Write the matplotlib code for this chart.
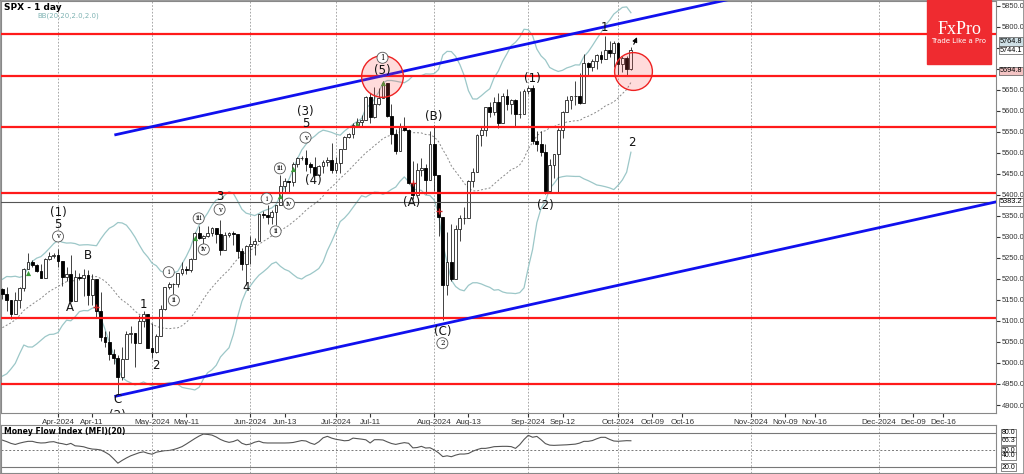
import matplotlib
matplotlib.use("Agg")
import matplotlib.pyplot as plt
import matplotlib.patches as mpatches
import numpy as np
import pandas as pd

# daily candles, 13 Mar 2024 .. 4 Oct 2024 (every weekday, CFD feed)
dates = pd.bdate_range("2024-03-13", "2024-10-04")

# closes before the first visible candle, only used for the bands
warmup_close = [5030, 5006, 5005, 4976, 4982, 5087, 5089, 5070, 5078, 5069,
                5096, 5137, 5131, 5079, 5105, 5157, 5124, 5117, 5175]

opens = [
    5175, 5165, 5150, 5117, 5149, 5178, 5224, 5241, 5234, 5218, 5203, 5248, 5254,
    5256, 5243, 5205, 5211, 5147, 5204, 5202, 5209, 5161, 5199, 5123, 5061, 5051, 5022, 5011, 4967, 5010, 5070, 5071, 5048, 5100, 5116,
    5036, 5025, 5064, 5128, 5181, 5187, 5187, 5214, 5223, 5221, 5247, 5308, 5297, 5303, 5308, 5321, 5307, 5268, 5305, 5308, 5306, 5267, 5235,
    5278, 5283, 5291, 5354, 5352, 5347, 5360, 5375, 5421, 5433, 5431, 5473, 5487, 5488, 5473, 5465, 5448, 5469, 5478, 5483,
    5460, 5475, 5509, 5537, 5545, 5567, 5572, 5577, 5633, 5585, 5615, 5631, 5667, 5588, 5544, 5505, 5564, 5555, 5427, 5399, 5459, 5463, 5436,
    5522, 5446, 5347, 5186, 5240, 5199, 5319, 5344, 5344, 5434, 5455, 5543, 5554, 5608, 5597, 5621, 5571, 5635, 5617, 5626, 5592, 5592,
    5648, 5655, 5529, 5520, 5503, 5408, 5471, 5496, 5554, 5596, 5626, 5634, 5634, 5618, 5714, 5703, 5718, 5732, 5722, 5745, 5738,
    5762, 5711, 5726, 5700]
highs = [
    5179, 5180, 5150, 5170, 5180, 5225, 5261, 5246, 5236, 5236, 5249, 5265, 5262,
    5270, 5243, 5228, 5256, 5222, 5214, 5224, 5222, 5211, 5200, 5168, 5077, 5077, 5033, 5019, 5038, 5076, 5089, 5071, 5114, 5123, 5117,
    5096, 5069, 5139, 5181, 5192, 5191, 5215, 5239, 5230, 5250, 5311, 5325, 5305, 5325, 5324, 5321, 5341, 5311, 5312, 5315, 5306, 5273, 5280,
    5302, 5298, 5354, 5362, 5376, 5365, 5375, 5447, 5439, 5433, 5477, 5490, 5492, 5506, 5478, 5490, 5472, 5483, 5490, 5524,
    5490, 5510, 5539, 5548, 5571, 5583, 5590, 5636, 5642, 5656, 5655, 5671, 5667, 5615, 5557, 5570, 5585, 5556, 5480, 5475, 5487, 5474, 5551,
    5566, 5446, 5347, 5312, 5330, 5328, 5351, 5371, 5436, 5464, 5545, 5564, 5608, 5621, 5633, 5643, 5642, 5652, 5628, 5628, 5646, 5651,
    5660, 5662, 5551, 5551, 5522, 5484, 5497, 5560, 5600, 5636, 5636, 5670, 5690, 5734, 5716, 5722, 5735, 5741, 5778, 5765, 5765,
    5763, 5731, 5730, 5752]
lows = [
    5151, 5123, 5104, 5117, 5131, 5172, 5224, 5229, 5216, 5203, 5203, 5246, 5250,
    5229, 5184, 5194, 5146, 5147, 5198, 5160, 5138, 5138, 5107, 5052, 5039, 5008, 4997, 4924, 4960, 5010, 5048, 4990, 5048, 5086, 5035,
    5013, 5023, 5064, 5127, 5177, 5165, 5180, 5209, 5211, 5217, 5247, 5296, 5283, 5299, 5302, 5286, 5257, 5268, 5300, 5280, 5250, 5222, 5185,
    5235, 5257, 5291, 5346, 5331, 5331, 5328, 5375, 5404, 5404, 5420, 5467, 5482, 5456, 5452, 5447, 5446, 5452, 5468, 5452,
    5452, 5453, 5509, 5534, 5535, 5563, 5563, 5577, 5571, 5583, 5614, 5631, 5584, 5522, 5497, 5505, 5551, 5426, 5391, 5399, 5445, 5401, 5436,
    5410, 5302, 5102, 5162, 5195, 5199, 5290, 5330, 5344, 5419, 5455, 5517, 5540, 5585, 5591, 5560, 5571, 5602, 5593, 5561, 5583, 5592,
    5640, 5521, 5505, 5493, 5403, 5408, 5441, 5406, 5535, 5596, 5604, 5614, 5615, 5618, 5683, 5695, 5700, 5714, 5722, 5727, 5703,
    5683, 5692, 5684, 5696]
closes = [
    5165, 5150, 5117, 5149, 5178, 5224, 5241, 5234, 5218, 5203, 5248, 5254, 5256,
    5243, 5205, 5211, 5147, 5204, 5202, 5209, 5161, 5199, 5123, 5061, 5051, 5022, 5011, 4967, 5010, 5070, 5071, 5048, 5100, 5116, 5036,
    5025, 5064, 5128, 5181, 5187, 5187, 5214, 5223, 5221, 5247, 5308, 5297, 5303, 5308, 5321, 5307, 5268, 5305, 5308, 5306, 5267, 5235, 5278,
    5283, 5291, 5354, 5352, 5347, 5360, 5375, 5421, 5433, 5431, 5473, 5487, 5488, 5473, 5465, 5448, 5469, 5478, 5483, 5460,
    5475, 5509, 5537, 5545, 5567, 5572, 5577, 5633, 5585, 5615, 5631, 5667, 5588, 5544, 5505, 5564, 5555, 5427, 5399, 5459, 5463, 5436, 5522,
    5446, 5347, 5186, 5240, 5199, 5319, 5344, 5344, 5434, 5455, 5543, 5554, 5608, 5597, 5621, 5571, 5635, 5617, 5626, 5592, 5592, 5648,
    5655, 5529, 5520, 5503, 5408, 5471, 5496, 5554, 5596, 5626, 5634, 5634, 5618, 5714, 5703, 5718, 5732, 5722, 5745, 5738, 5762,
    5711, 5726, 5700, 5744]

# Money Flow Index (20), one value per candle
mfi = [
    67.4, 64.8, 61.7, 59.8, 62.1, 63.9, 65.3, 65.3, 63.3, 62.4, 62.7, 64.2, 64.7,
    62.4, 61.2, 59.4, 61.7, 57.4, 56.8, 55.7, 53.3, 51.7, 51.2, 50.1, 46.3, 41.8, 34.6, 26.8, 31.7, 36.0, 39.8, 42.5, 45.3, 46.8, 44.2,
    42.6, 46.2, 47.5, 48.9, 49.2, 50.8, 53.1, 56.0, 60.5, 65.3, 70.2, 74.6, 78.1, 77.5, 76.3, 73.0, 68.6, 65.5, 63.5, 65.0, 68.0, 61.9, 59.3,
    60.5, 63.8, 65.6, 62.9, 62.4, 62.4, 62.4, 62.4, 62.4, 62.6, 63.3, 64.9, 66.7, 65.9, 62.3, 59.9, 64.5, 71.5, 74.1, 71.0,
    68.9, 67.7, 66.3, 66.9, 71.0, 70.1, 69.2, 68.0, 62.4, 68.2, 68.2, 67.7, 64.4, 61.5, 59.9, 61.6, 63.0, 61.9, 53.8, 54.4, 56.5, 53.5, 54.0,
    50.2, 45.1, 38.4, 39.8, 38.2, 41.0, 42.9, 42.9, 43.9, 47.8, 50.7, 52.9, 52.9, 54.2, 55.9, 56.2, 56.5, 56.5, 56.0, 52.9, 59.5, 68.6,
    75.9, 72.5, 74.0, 68.1, 61.3, 58.6, 58.2, 58.5, 58.7, 59.2, 59.8, 60.4, 62.2, 65.3, 65.3, 66.7, 69.8, 72.4, 72.4, 68.8, 65.9,
    65.4, 65.9, 66.5, 66.3]

red_levels = [5782, 5682.5, 5560.5, 5405, 5107, 4951]
channel_k = [26.5, 232.4]
channel_low = [4921, 5383.2]
channel_high = [5543, 6005]
line_value = 5383.2

# (candle position, price, text, circled?)
wave_labels = [
    (13.0, 5358, "(1)", False), (13.0, 5330, "5", False), (13.0, 5301, "v", True),
    (15.8, 5132, "A", False), (20.0, 5256, "B", False),
    (26.8, 4912, "C", False), (26.8, 4874, "(2)", False),
    (32.9, 5140, "1", False), (35.9, 4995, "2", False),
    (38.9, 5216, "i", True), (40.1, 5149, "ii", True),
    (45.9, 5344, "iii", True), (47.1, 5270, "iv", True),
    (50.8, 5396, "3", False), (50.8, 5365, "v", True),
    (56.9, 5180, "4", False),
    (61.8, 5391, "i", True), (63.9, 5313, "ii", True),
    (64.9, 5463, "iii", True), (67.0, 5379, "iv", True),
    (70.9, 5598, "(3)", False), (70.9, 5569, "5", False), (70.9, 5536, "v", True),
    (72.8, 5434, "(4)", False),
    (88.9, 5726, "1", True), (88.9, 5695, "(5)", False),
    (95.7, 5382, "(A)", False), (100.8, 5586, "(B)", False),
    (102.9, 5075, "(C)", False), (102.9, 5047, "2", True),
    (124.0, 5676, "(1)", False), (127.0, 5375, "(2)", False),
    (140.8, 5799, "1", False), (147.3, 5524, "2", False),
]
green_k = [6, 45, 65, 68, 83, 89]
green_p = [5213, 5298, 5398, 5462, 5569, 5667]
cross_k = [22, 96, 102]
cross_p = [5133, 5429, 5362]
zone_k = [88.7, 147.6]
zone_p = [5683, 5695]

tick_dates = ["2024-04-01", "2024-04-11", "2024-05-01", "2024-05-11", "2024-06-01",
              "2024-06-13", "2024-07-01", "2024-07-11", "2024-08-01", "2024-08-13",
              "2024-09-01", "2024-09-12", "2024-10-01", "2024-10-09", "2024-10-16",
              "2024-11-01", "2024-11-09", "2024-11-16", "2024-12-01", "2024-12-09",
              "2024-12-16"]
tick_labels = ["Apr-2024", "Apr-11", "May-2024", "May-11", "Jun-2024", "Jun-13",
               "Jul-2024", "Jul-11", "Aug-2024", "Aug-13", "Sep-2024", "Sep-12",
               "Oct-2024", "Oct-09", "Oct-16", "Nov-2024", "Nov-09", "Nov-16",
               "Dec-2024", "Dec-09", "Dec-16"]
month_starts = ["2024-04-01", "2024-05-01", "2024-06-01", "2024-07-01", "2024-08-01",
                "2024-09-01", "2024-10-01", "2024-11-01", "2024-12-01"]

last_day = dates[-1]


def xpos(d):
    # past: one slot per candle, future: one slot per calendar day
    d = pd.Timestamp(d)
    if d <= last_day:
        return int(dates.searchsorted(d))
    return len(dates) - 1 + (d - last_day).days


n = len(closes)
k = np.arange(n)
o = np.array(opens, float)
c = np.array(closes, float)

s = pd.Series(warmup_close + closes, dtype=float)
mid = s.rolling(20).mean().values[-n:]
sd = s.rolling(20).std(ddof=0).values[-n:]

SMALL = "Liberation Sans"

W, H = 1024, 474
fig = plt.figure(figsize=(W / 100, H / 100), dpi=100)
ax = fig.add_axes([0.001, 1 - 413 / H, 995 / W, 412 / H])
axm = fig.add_axes([0.001, 1 - 473 / H, 995 / W, 48 / H], sharex=ax)

ax.set_xlim(-0.33, 232.4)
ax.set_ylim(4881, 5861)

for d in month_starts:
    for a in (ax, axm):
        a.axvline(xpos(d), color="#999999", lw=0.6, ls=(0, (2, 2)), zorder=1)

# bollinger bands
band_col = "#9cc7c8"
ax.plot(k, mid + 2 * sd, color=band_col, lw=0.9, zorder=2)
ax.plot(k, mid - 2 * sd, color=band_col, lw=0.9, zorder=2)
ax.plot(k, mid, color="#888888", lw=0.7, ls=(0, (2, 2)), zorder=2)

# candles
up = c >= o
ax.vlines(k, lows, highs, color="#222222", lw=0.6, zorder=3)
body = np.maximum(np.abs(c - o), 1.0)
ax.bar(k[up], body[up], bottom=o[up], width=0.66, color="white",
       edgecolor="#222222", lw=0.6, zorder=4)
ax.bar(k[~up], body[~up], bottom=c[~up], width=0.66, color="black",
       edgecolor="black", lw=0.6, zorder=4)

ax.scatter(green_k, green_p, marker="^", s=14, color="#3a9a3a", zorder=5, lw=0)
ax.scatter(cross_k, cross_p, marker="+", s=14, color="#cc2222", zorder=5, lw=1.0)

# support / resistance and channel
for lv in red_levels:
    ax.axhline(lv, color="#ff1a1a", lw=1.6, zorder=6)
ax.axhline(line_value, color="#555555", lw=0.8, zorder=5)
ax.plot(channel_k, channel_low, color="#1010ee", lw=2, zorder=7)
ax.plot(channel_k, channel_high, color="#1010ee", lw=2, zorder=7)

ax.scatter(zone_k[:1], zone_p[:1], s=900, facecolor=(1, 0.3, 0.3, 0.2),
           edgecolor="#ee2222", lw=1.0, zorder=8)
ax.scatter(zone_k[1:], zone_p[1:], s=740, facecolor=(1, 0.3, 0.3, 0.2),
           edgecolor="#ee2222", lw=1.0, zorder=8)
ax.annotate("", xy=(148.7, 5781), xytext=(147.4, 5752),
            arrowprops=dict(arrowstyle="-|>", color="black", lw=0.8, mutation_scale=7),
            zorder=9)

for xk, p, txt, circ in wave_labels:
    if circ:
        ax.text(xk, p, txt, ha="center", va="center", fontsize=5, family="DejaVu Serif",
                zorder=9, clip_on=True,
                bbox=dict(boxstyle="circle,pad=0.22", fc="white", ec="#555555", lw=0.6))
    else:
        ax.text(xk, p, txt, ha="center", va="center", fontsize=8.5, color="#111111",
                zorder=9, clip_on=True)

# axes styling
ax.yaxis.tick_right()
yt = list(range(4900, 5851, 50))
ax.set_yticks(yt)
ax.set_yticklabels(["" if v in (5700, 5750) else f"{v:.1f}" for v in yt], family=SMALL)
ax.tick_params(axis="y", labelsize=5.4, length=3, pad=1, colors="#333333")
ax.set_xticks([xpos(d) for d in tick_dates])
ax.set_xticklabels(tick_labels, family=SMALL)
ax.tick_params(axis="x", labelsize=5.8, length=3, pad=1.5, colors="#333333")
for sp in ax.spines.values():
    sp.set_color("#888888")
    sp.set_linewidth(0.8)

tr = ax.get_yaxis_transform()
price_tags = [(5764.8, "#cfe0e6"), (5744.1, "white"), (5694.8, "#f4c4c4"), (5383.2, "white")]
for val, fc in price_tags:
    ax.text(1.004, val, f"{val:.1f}", transform=tr, fontsize=5.3, va="center", ha="left",
            family=SMALL, clip_on=False, zorder=10,
            bbox=dict(boxstyle="square,pad=0.1", fc=fc, ec="#555555", lw=0.5))

fig.text(4 / W, 1 - 8 / H, "SPX - 1 day", fontsize=6.5, fontweight="bold", va="center")
fig.text(37 / W, 1 - 16 / H, "BB(20,20,2.0,2.0)", fontsize=5, color="#7fb3b3", va="center")

# logo
fig.patches.append(mpatches.Rectangle((927 / W, 1 - 64 / H), 64 / W, 64 / H,
                                      transform=fig.transFigure, color="#ef2b30", zorder=20))
fig.text(959 / W, 1 - 29 / H, "FxPro", fontsize=13, color="white", ha="center", va="center",
         family="Liberation Serif", zorder=21)
fig.text(959 / W, 1 - 41 / H, "Trade Like a Pro", fontsize=5, color="white", ha="center",
         va="center", zorder=21)

# MFI panel
axm.plot(k, mfi, color="#555555", lw=0.8)
axm.axhline(80, color="#777777", lw=0.8)
axm.axhline(20, color="#777777", lw=0.8)
axm.axhline(50, color="#777777", lw=0.7, ls=(0, (2, 2)))
axm.set_ylim(9.5, 94.1)
axm.set_yticks([])
axm.tick_params(axis="x", length=0, labelbottom=False)
for sp in axm.spines.values():
    sp.set_color("#888888")
    sp.set_linewidth(0.8)
trm = axm.get_yaxis_transform()
for val in [80.0, 66.3, 50.0, 40.0, 20.0]:
    axm.text(1.006, val, f"{val:.1f}", transform=trm, fontsize=5, va="center", ha="left",
             family=SMALL, clip_on=False,
             bbox=dict(boxstyle="square,pad=0.08", fc="white", ec="#555555", lw=0.5))
fig.text(4 / W, 1 - 431 / H, "Money Flow Index (MFI)(20)", fontsize=5.5, fontweight="bold",
         va="center")

fig.patches.append(mpatches.Rectangle((0, 0), 1, 1, transform=fig.transFigure, fill=False,
                                      ec="#888888", lw=1.2))
fig.savefig("out.png", dpi=100)
